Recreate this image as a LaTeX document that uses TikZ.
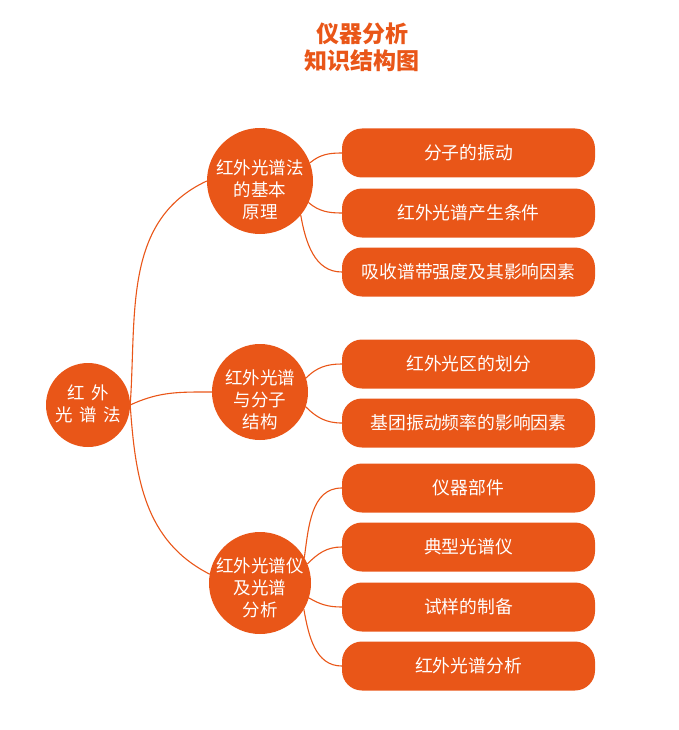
\documentclass[tikz,border=0pt]{standalone}
\usepackage{fontspec}
\setmainfont{Noto Sans CJK SC}
\definecolor{orb}{HTML}{E95618}

\begin{document}
\begin{tikzpicture}[x=1pt, y=1pt, line cap=round, line join=round,
	topic/.style={circle, fill=orb, text=white, inner sep=-30pt, minimum size=#1,
		align=center, text depth=0pt, font=\fontsize{17.5}{22}\selectfont},
	leaf/.style={rectangle, rounded corners=20pt, fill=orb, text=white,
		minimum width=253, minimum height=49, font=\fontsize{17.8}{21}\selectfont},
	branch/.style={draw=orb, line width=1.1pt}]
\useasboundingbox (0,0) rectangle (679,-730);
%========================
% title
%========================
\node[text=orb, align=center, font=\fontsize{23}{27}\selectfont\bfseries] (title) at (362,-47) {仪器分析\\知识结构图};

%========================
% topics
%========================
\node[topic=84, text height=33.3pt] (root) at (88,-405) {红\hspace{0.15em} 外\\光\hspace{0.15em} 谱\hspace{0.15em} 法};
\node[topic=106, text height=74.3pt] (basic) at (260,-181) {红外光谱法\\的基本\\原理};
\node[topic=96, text height=72.7pt] (struct) at (260,-392) {红外光谱\\与分子\\结构};
\node[topic=102, text height=67.3pt] (instr) at (260,-583) {红外光谱仪\\及光谱\\分析};

%========================
% leaves
%========================
\node[leaf] (vib) at (468.5,-153) {分子的振动};
\node[leaf] (cond) at (468.5,-213) {红外光谱产生条件};
\node[leaf] (inten) at (468.5,-272) {吸收谱带强度及其影响因素};
\node[leaf] (region) at (468.5,-364) {红外光区的划分};
\node[leaf] (freq) at (468.5,-423) {基团振动频率的影响因素};
\node[leaf] (parts) at (468.5,-488) {仪器部件};
\node[leaf] (spectro) at (468.5,-547) {典型光谱仪};
\node[leaf] (sample) at (468.5,-607) {试样的制备};
\node[leaf] (anal) at (468.5,-666) {红外光谱分析};

% root to topics
\draw[branch] (root.east) to[out=86, in=205] (basic.west);
\draw[branch] (root.east) to[out=25, in=180] (struct.west);
\draw[branch] (root.east) to[out=-86, in=153] (instr.170);

% topics to leaves
\draw[branch] (basic.20) to[out=40, in=180] (vib.west);
\draw[branch] (basic.-24) to[out=-40, in=180] (cond.west);
\draw[branch] (basic.-40) to[out=-80, in=180] (inten.west);
\draw[branch] (struct.17) to[out=45, in=180] (region.west);
\draw[branch] (struct.-18) to[out=-45, in=180] (freq.west);
\draw[branch] (instr.30) to[out=82, in=180] (parts.west);
\draw[branch] (instr.22) to[out=45, in=180] (spectro.west);
\draw[branch] (instr.-17) to[out=-30, in=180] (sample.west);
\draw[branch] (instr.-31) to[out=-80, in=180] (anal.west);
\end{tikzpicture}
\end{document}
